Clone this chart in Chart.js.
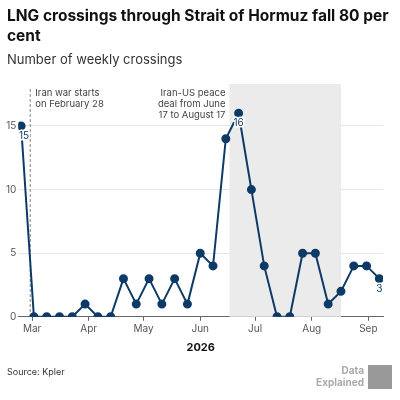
<!DOCTYPE html>
<html><head><meta charset="utf-8">
<script src="https://cdn.jsdelivr.net/npm/chart.js@4"></script>
<style>html,body{margin:0;padding:0;background:#fff}#w{width:400px;height:400px;position:relative}</style>
</head><body><div id="w"><canvas id="c"></canvas></div>
<script>
// Day-of-year 2026 for each weekly observation
const weekDays = [54,61,68,75,82,89,96,103,110,117,124,131,138,145,152,159,166,173,180,187,194,201,208,215,222,229,236,243,250];
const crossings = [15,0,0,0,0,1,0,0,3,1,3,1,3,1,5,4,14,16,10,4,0,0,5,5,1,2,4,4,3];
const monthDays = [60,91,121,152,182,213,244];
const monthLabels = ['Mar','Apr','May','Jun','Jul','Aug','Sep'];
const yTicks = [0,5,10,15];
const warStart = 59, peaceStart = 168, peaceEnd = 229;
const labelled = [0,17,28];

const F = 'Inter, "Noto Sans", sans-serif';
const deco = {
  id:'deco',
  beforeDatasetsDraw(ch){
    const {ctx, chartArea:a, scales:{x,y}} = ch;
    ctx.save();
    ctx.fillStyle='#ebebeb';
    ctx.fillRect(x.getPixelForValue(peaceStart), a.top, x.getPixelForValue(peaceEnd)-x.getPixelForValue(peaceStart), y.getPixelForValue(0)-a.top);
    const dx = x.getPixelForValue(warStart);
    ctx.strokeStyle='#999'; ctx.lineWidth=1.2; ctx.setLineDash([3,2]);
    ctx.beginPath(); ctx.moveTo(dx,a.top+5); ctx.lineTo(dx,y.getPixelForValue(0)); ctx.stroke();
    ctx.setLineDash([]);
    ctx.fillStyle='#444'; ctx.font='9.5px '+F; ctx.textBaseline='top';
    ctx.textAlign='left';
    ctx.fillText('Iran war starts', dx+5, a.top+4);
    ctx.fillText('on February 28', dx+5, a.top+15);
    ctx.textAlign='right';
    const px = x.getPixelForValue(peaceStart)-4;
    ctx.fillText('Iran-US peace', px, a.top+4);
    ctx.fillText('deal from June', px, a.top+15);
    ctx.fillText('17 to August 17', px, a.top+26);
    ctx.restore();
  },
  afterDatasetsDraw(ch){
    const {ctx, scales:{x,y}} = ch;
    ctx.save(); ctx.font='10px '+F; ctx.textAlign='center'; ctx.textBaseline='top';
    ctx.strokeStyle='#fff'; ctx.lineWidth=3; ctx.lineJoin='round';
    labelled.forEach(i=>{
      const tx = x.getPixelForValue(weekDays[i])+(i===0?3:0), ty = y.getPixelForValue(crossings[i])+5;
      const t = String(crossings[i]);
      ctx.strokeText(t, tx, ty); ctx.fillStyle='#0d3a66'; ctx.fillText(t, tx, ty);
    });
    ctx.restore();
  },
  afterDraw(ch){
    const ctx=ch.ctx; ctx.save();
    ctx.fillStyle='#111'; ctx.font='bold 15.5px '+F; ctx.textBaseline='alphabetic'; ctx.textAlign='left';
    ctx.fillText('LNG crossings through Strait of Hormuz fall 80 per', 7, 21);
    ctx.fillText('cent', 7, 41);
    ctx.fillStyle='#333'; ctx.font='13px '+F;
    ctx.fillText('Number of weekly crossings', 7, 64);
    ctx.fillStyle='#333'; ctx.font='9px '+F;
    ctx.fillText('Source: Kpler', 7, 375);
    ctx.fillStyle='#aaa'; ctx.font='bold 10px '+F; ctx.textAlign='right';
    ctx.fillText('Data', 364, 374); ctx.fillText('Explained', 364, 386);
    ctx.fillStyle='#999'; ctx.fillRect(368,365,24,24);
    ctx.restore();
  }
};

new Chart(document.getElementById('c'), {
  type:'line',
  data:{datasets:[{data:weekDays.map((d,i)=>({x:d,y:crossings[i]})), borderColor:'#0d3a66', backgroundColor:'#0d3a66', borderWidth:2, pointRadius:3.5, pointHoverRadius:3.5, tension:0}]},
  options:{
    responsive:true, maintainAspectRatio:false, animation:false,
    layout:{padding:{top:84, right:17, bottom:42, left:4}},
    plugins:{legend:{display:false}, tooltip:{enabled:false}},
    scales:{
      x:{type:'linear', min:52.5, max:252,
        afterBuildTicks(s){s.ticks=monthDays.map(v=>({value:v}));},
        ticks:{callback:(v)=>monthLabels[monthDays.indexOf(v)], color:'#555', font:{size:10,family:F}, maxRotation:0, autoSkip:false, padding:2},
        grid:{drawOnChartArea:false, drawTicks:true, tickLength:4, color:'#666'},
        border:{display:true, color:'#666'},
        title:{display:true, text:'2026', color:'#111', font:{size:11,weight:'bold',family:F}, padding:{top:4}}
      },
      y:{min:0, max:18.3,
        afterBuildTicks(s){s.ticks=yTicks.map(v=>({value:v}));},
        ticks:{color:'#555', font:{size:10,family:F}, padding:2},
        grid:{color:'#e6e6e6', drawTicks:false}, border:{display:false}
      }
    }
  },
  plugins:[deco]
});
</script></body></html>
